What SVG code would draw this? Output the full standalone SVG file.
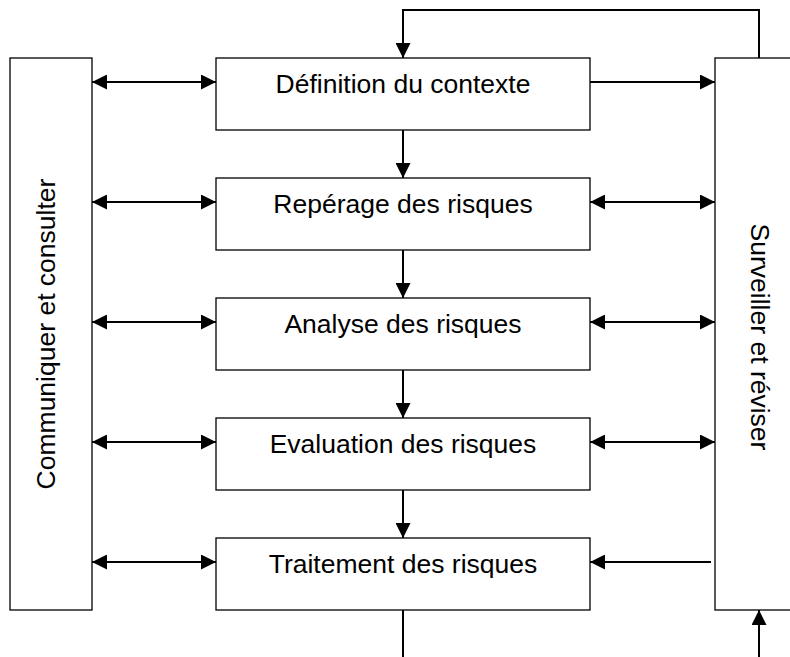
<svg xmlns="http://www.w3.org/2000/svg" width="790" height="657" viewBox="0 0 790 657">
<style>
.box{fill:#fff;stroke:#000;stroke-width:1.3}
.lbl{font-family:"Liberation Sans",Arial,sans-serif;font-size:26.5px;fill:#000;text-anchor:middle}
.c{fill:none;stroke:#000;stroke-width:2}
.a{marker-end:url(#ah)}
.d{marker-start:url(#ah);marker-end:url(#ah)}
</style>
<defs>
<marker id="ah" markerUnits="userSpaceOnUse" markerWidth="15" markerHeight="15" refX="15" refY="7.5" orient="auto-start-reverse" viewBox="0 0 15 15">
<path d="M0,0 L15,7.5 L0,15 z" fill="#000"/>
</marker>
</defs>
<rect width="790" height="657" fill="#fff"/>
<g id="communiquer">
<rect class="box" x="10" y="58" width="82" height="552"/>
<text class="lbl" transform="translate(55,334) rotate(-90)">Communiquer et consulter</text>
</g>
<g id="surveiller">
<rect class="box" x="715" y="58" width="100" height="552"/>
<text class="lbl" transform="translate(751,337) rotate(90)">Surveiller et réviser</text>
</g>
<g id="definition">
<rect class="box" x="216" y="58" width="374" height="72"/>
<text class="lbl" x="403" y="93">Définition du contexte</text>
</g>
<g id="reperage">
<rect class="box" x="216" y="178" width="374" height="72"/>
<text class="lbl" x="403" y="213">Repérage des risques</text>
</g>
<g id="analyse">
<rect class="box" x="216" y="298" width="374" height="72"/>
<text class="lbl" x="403" y="333">Analyse des risques</text>
</g>
<g id="evaluation">
<rect class="box" x="216" y="418" width="374" height="72"/>
<text class="lbl" x="403" y="453">Evaluation des risques</text>
</g>
<g id="traitement">
<rect class="box" x="216" y="538" width="374" height="72"/>
<text class="lbl" x="403" y="573">Traitement des risques</text>
</g>
<g id="connectors">
<line class="c d" x1="92" y1="82" x2="216" y2="82"/>
<line class="c d" x1="92" y1="202" x2="216" y2="202"/>
<line class="c d" x1="92" y1="322" x2="216" y2="322"/>
<line class="c d" x1="92" y1="442" x2="216" y2="442"/>
<line class="c d" x1="92" y1="562" x2="216" y2="562"/>
<line class="c a" x1="590" y1="82" x2="715" y2="82"/>
<line class="c d" x1="590" y1="202" x2="715" y2="202"/>
<line class="c d" x1="590" y1="322" x2="715" y2="322"/>
<line class="c d" x1="590" y1="442" x2="715" y2="442"/>
<line class="c a" x1="711" y1="562" x2="590" y2="562"/>
<line class="c a" x1="403" y1="130" x2="403" y2="178"/>
<line class="c a" x1="403" y1="250" x2="403" y2="298"/>
<line class="c a" x1="403" y1="370" x2="403" y2="418"/>
<line class="c a" x1="403" y1="490" x2="403" y2="538"/>
<polyline class="c a" points="759,58 759,10 403,10 403,58"/>
<line class="c" x1="403" y1="610" x2="403" y2="660"/>
<line class="c a" x1="759" y1="660" x2="759" y2="610"/>
</g>
</svg>
